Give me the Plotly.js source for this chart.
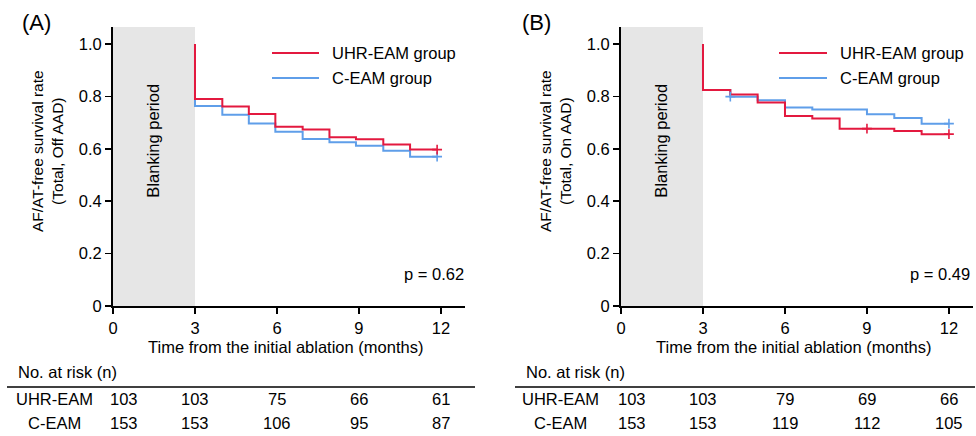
<!DOCTYPE html>
<html><head><meta charset="utf-8">
<script src="https://cdn.plot.ly/plotly-3.0.1.min.js"></script>
<style>html,body{margin:0;padding:0;background:#fff}#chart{width:976px;height:436px}</style>
</head><body><div id="chart"></div>
<script>
// ---- Data ----
const monthsA = [3, 3, 4, 4.97, 5.94, 6.94, 7.92, 8.89, 9.89, 10.87, 11.86];
const uhrA    = [1.0, 0.790, 0.761, 0.733, 0.684, 0.674, 0.644, 0.636, 0.616, 0.597, 0.597];
const ceamA   = [1.0, 0.763, 0.730, 0.697, 0.665, 0.637, 0.625, 0.612, 0.593, 0.570, 0.570];
const monthsB = [3, 3, 4, 5, 6, 7, 8, 9, 10, 11, 12];
const uhrB    = [1.0, 0.824, 0.807, 0.777, 0.725, 0.716, 0.677, 0.677, 0.668, 0.656, 0.656];
const ceamB   = [1.0, 0.824, 0.799, 0.785, 0.758, 0.750, 0.750, 0.732, 0.718, 0.696, 0.696];
const censorA_uhr_x = [11.86], censorA_uhr_y = [0.597];
const censorA_ceam_x = [11.86], censorA_ceam_y = [0.570];
const censorB_uhr_x = [9, 12], censorB_uhr_y = [0.677, 0.656];
const censorB_ceam_x = [4, 12], censorB_ceam_y = [0.799, 0.696];
const xTicks = [0, 3, 6, 9, 12];
const yTicks = [0, 0.2, 0.4, 0.6, 0.8, 1.0];
const yTickText = ['0', '0.2', '0.4', '0.6', '0.8', '1.0'];
const riskTimes = [0, 3, 6, 9, 12];
const riskA_uhr = [103, 103, 75, 66, 61];
const riskA_ceam = [153, 153, 106, 95, 87];
const riskB_uhr = [103, 103, 79, 69, 66];
const riskB_ceam = [153, 153, 119, 112, 105];
const groupNames = ['UHR-EAM group', 'C-EAM group'];
const riskLabels = ['UHR-EAM', 'C-EAM'];
const yTitles = ['AF/AT-free survival rate<br>(Total, Off AAD)', 'AF/AT-free survival rate<br>(Total, On AAD)'];
const pValues = ['p = 0.62', 'p = 0.49'];

// ---- Style ----
const RED = '#e3193f', BLUE = '#5f9ee9';
const FONT = 'Arial, "Liberation Sans", sans-serif';
const W = 976, H = 436;
const px = v => v / W, py = v => 1 - v / H;
const TXT = {family: FONT, size: 16.5, color: '#000'};

function step(x, y, c, xa, ya) {
  return {x, y, type: 'scatter', mode: 'lines', line: {shape: 'hv', color: c, width: 2},
          xaxis: xa, yaxis: ya, showlegend: false, hoverinfo: 'skip'};
}
function cens(x, y, c, xa, ya) {
  return {x, y, type: 'scatter', mode: 'markers',
          marker: {symbol: 'cross-thin', size: 7, line: {color: c, width: 1.6}, color: c},
          xaxis: xa, yaxis: ya, showlegend: false, hoverinfo: 'skip'};
}
const traces = [
  step(monthsA, ceamA, BLUE, 'x', 'y'),
  step(monthsA, uhrA, RED, 'x', 'y'),
  cens(censorA_ceam_x, censorA_ceam_y, BLUE, 'x', 'y'),
  cens(censorA_uhr_x, censorA_uhr_y, RED, 'x', 'y'),
  step(monthsB, ceamB, BLUE, 'x2', 'y2'),
  step(monthsB, uhrB, RED, 'x2', 'y2'),
  cens(censorB_ceam_x, censorB_ceam_y, BLUE, 'x2', 'y2'),
  cens(censorB_uhr_x, censorB_uhr_y, RED, 'x2', 'y2'),
];

const yDom = [py(306), py(27)];
const yRange = [0, (306 - 27) / 262];
const xRange = [0, 12.88];
function xax(dom) {
  return {domain: dom, range: xRange, tickvals: xTicks, ticks: 'outside', ticklen: 6, tickwidth: 1.6,
          tickcolor: '#000', showline: true, linecolor: '#000', linewidth: 2, showgrid: false,
          zeroline: false, tickfont: TXT, fixedrange: true};
}
function yax(anchor) {
  return {domain: yDom, range: yRange, anchor, tickvals: yTicks, ticktext: yTickText, ticks: 'outside',
          ticklen: 6, tickwidth: 1.6, tickcolor: '#000', showline: true, linecolor: '#000', linewidth: 2,
          showgrid: false, zeroline: false, tickfont: TXT, fixedrange: true};
}

const shapes = [], annotations = [];
function ann(o) {
  annotations.push(Object.assign({showarrow: false, xanchor: 'center', yanchor: 'middle', font: TXT}, o));
}
const panels = [
  {xa: 'x', ya: 'y', lineL: 7, lineR: 475, label: '(A)', labelX: 20, riskLabelX: 54,
   legX0: 272, legX1: 319, legTextX: 330, uhr: riskA_uhr, ceam: riskA_ceam, yTitleX: 47, pRight: 466},
  {xa: 'x2', ya: 'y2', lineL: 515, lineR: 975, label: '(B)', labelX: 520, riskLabelX: 560,
   legX0: 779, legX1: 827, legTextX: 838, uhr: riskB_uhr, ceam: riskB_ceam, yTitleX: 555, pRight: 972},
];
panels.forEach((p, i) => {
  // blanking period
  shapes.push({type: 'rect', xref: p.xa, yref: p.ya, x0: 0, x1: 3, y0: 0, y1: yRange[1],
               fillcolor: '#e6e6e6', line: {width: 0}, layer: 'below'});
  ann({xref: p.xa, yref: 'paper', x: 1.45, y: py(141), text: 'Blanking period', textangle: -90});
  // panel label
  ann({xref: 'paper', yref: 'paper', x: px(p.labelX), y: py(22), xanchor: 'left', text: p.label,
       font: {family: FONT, size: 22, color: '#000'}});
  // y title
  ann({xref: 'paper', yref: 'paper', x: px(p.yTitleX), y: py(151), text: yTitles[i], textangle: -90,
       font: {family: FONT, size: 15.5, color: '#000'}});
  // x title
  ann({xref: p.xa, yref: 'paper', x: 6.3, y: py(347), text: 'Time from the initial ablation (months)'});
  // p value
  ann({xref: 'paper', yref: 'paper', x: px(p.pRight), y: py(274), xanchor: 'right', text: pValues[i]});
  // legend
  [[RED, 53], [BLUE, 78]].forEach(([c, yy], k) => {
    shapes.push({type: 'line', xref: 'paper', yref: 'paper', x0: px(p.legX0), x1: px(p.legX1), y0: py(yy), y1: py(yy),
                 line: {color: c, width: 2}});
    ann({xref: 'paper', yref: 'paper', x: px(p.legTextX), y: py(yy), xanchor: 'left', text: groupNames[k]});
  });
  // risk table
  ann({xref: 'paper', yref: 'paper', x: px(p.lineL + 9), y: py(372), xanchor: 'left', text: 'No. at risk (n)'});
  shapes.push({type: 'line', xref: 'paper', yref: 'paper', x0: px(p.lineL), x1: px(p.lineR), y0: py(387), y1: py(387),
               line: {color: '#000', width: 1.6}});
  [[p.uhr, 399], [p.ceam, 423]].forEach(([vals, yy], k) => {
    ann({xref: 'paper', yref: 'paper', x: px(p.riskLabelX), y: py(yy), text: riskLabels[k]});
    vals.forEach((v, j) => {
      ann({xref: p.xa, yref: 'paper', x: riskTimes[j], xshift: j === 0 ? 11 : 0, y: py(yy), text: String(v)});
    });
  });
});

const layout = {
  width: W, height: H, margin: {l: 0, r: 0, t: 0, b: 0},
  paper_bgcolor: '#fff', plot_bgcolor: 'rgba(0,0,0,0)', showlegend: false,
  font: TXT,
  xaxis: Object.assign(xax([px(113), px(465)]), {anchor: 'y'}),
  yaxis: yax('x'),
  xaxis2: Object.assign(xax([px(621), px(973)]), {anchor: 'y2'}),
  yaxis2: yax('x2'),
  shapes, annotations,
};
Plotly.newPlot('chart', traces, layout, {staticPlot: true, displayModeBar: false});
</script></body></html>
